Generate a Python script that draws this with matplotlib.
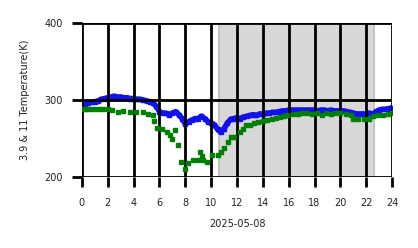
import matplotlib
matplotlib.use('Agg')
import matplotlib.pyplot as plt

# hours of day and brightness temperatures (K)
blue_hours = [0.0, 0.25, 0.5, 0.75, 1.0, 1.25, 1.5, 1.75, 2.0, 2.25, 2.5, 2.75,
              3.0, 3.25, 3.5, 3.75, 4.0, 4.25, 4.5, 4.75, 5.0, 5.25, 5.5, 5.75,
              6.0, 6.25, 6.5, 6.75, 7.0, 7.25, 7.5, 7.75, 8.0, 8.25, 8.5, 8.75,
              9.0, 9.25, 9.5, 9.75, 10.0, 10.25, 10.5, 10.75, 11.0, 11.25, 11.5, 11.75,
              12.0, 12.25, 12.5, 12.75, 13.0, 13.25, 13.5, 13.75, 14.0, 14.25, 14.5, 14.75,
              15.0, 15.25, 15.5, 15.75, 16.0, 16.25, 16.5, 16.75, 17.0, 17.25, 17.5, 17.75,
              18.0, 18.25, 18.5, 18.75, 19.0, 19.25, 19.5, 19.75, 20.0, 20.25, 20.5, 20.75,
              21.0, 21.25, 21.5, 21.75, 22.0, 22.25, 22.5, 22.75, 23.0, 23.25, 23.5, 23.75, 24.0]
blue_temp = [293, 294, 296, 297, 298, 299, 301, 302, 303, 304, 305, 304,
             304, 303, 303, 302, 302, 301, 301, 300, 299, 298, 296, 292,
             285, 283, 283, 281, 283, 285, 281, 276, 269, 272, 274, 276,
             276, 279, 276, 272, 270, 268, 262, 258, 263, 270, 275, 276,
             277, 276, 278, 279, 280, 281, 280, 282, 282, 283, 283, 284,
             284, 285, 286, 286, 287, 287, 287, 287, 287, 287, 287, 287,
             287, 286, 287, 287, 286, 287, 286, 286, 286, 286, 285, 284,
             283, 282, 282, 282, 282, 283, 281, 285, 287, 288, 288, 289, 290]

green_hours = [0.0, 0.2, 0.4, 0.7, 1.0, 1.3, 1.6, 2.0, 2.3, 2.8, 3.2, 3.7, 4.2, 4.7,
               5.1, 5.5, 5.6, 5.8, 6.2, 6.6, 6.8, 7.0, 7.2, 7.4, 7.7, 8.0, 8.2, 8.6,
               9.0, 9.1, 9.3, 9.4, 9.7, 10.1, 10.5, 10.8, 11.0, 11.3, 11.5, 11.8, 12.2,
               12.5, 12.7, 13.0, 13.3, 13.6, 14.0, 14.3, 14.7, 15.0, 15.3, 15.6, 15.9,
               16.3, 16.7, 17.0, 17.4, 17.8, 18.2, 18.6, 18.9, 19.3, 19.6, 20.0, 20.4,
               20.8, 21.0, 21.4, 21.8, 22.2, 22.5, 22.9, 23.3, 23.7, 24.0]
green_temp = [289, 289, 289, 289, 289, 289, 289, 289, 287, 285, 286, 285, 285, 284,
              282, 280, 273, 264, 262, 258, 255, 249, 261, 242, 220, 211, 218, 222,
              222, 232, 228, 222, 220, 229, 229, 232, 238, 245, 252, 252, 259,
              262, 267, 268, 270, 272, 273, 274, 276, 277, 278, 279, 281,
              282, 282, 283, 283, 282, 283, 281, 283, 282, 283, 283, 282,
              281, 276, 275, 275, 276, 279, 280, 281, 282, 283]

night_start, night_end = 10.6, 22.6
xticks = list(range(0, 25, 2))
yticks = [200, 300, 400]

fig = plt.figure(figsize=(4.18, 2.48), dpi=100)
ax = fig.add_axes([0.196, 0.286, 0.742, 0.621])

ax.axvspan(night_start, night_end, facecolor='#d8d8d8', edgecolor='#c4c4c4', linewidth=1.5, zorder=0)
ax.plot(blue_hours, blue_temp, color='#1010f0', linewidth=4, marker='s', markersize=3, zorder=2)
ax.plot(green_hours, green_temp, color='green', linestyle='none', marker='s', markersize=3, zorder=3)

ax.set_xlim(0, 24)
ax.set_ylim(200, 400)
ax.set_xticks(xticks)
ax.set_yticks(yticks)
ax.grid(True, color='black', linewidth=2)
ax.set_axisbelow(False)
for s in ax.spines.values():
    s.set_visible(False)
ax.tick_params(axis='both', length=7, width=2, color='black', labelsize=7, colors='#222222')
ax.tick_params(axis='x', pad=8)
ax.tick_params(axis='y', pad=7)
ax.set_xlabel('2025-05-08', fontsize=7, color='#222222', labelpad=8)
ax.set_ylabel('3.9 & 11 Temperature(K)', fontsize=7, color='#222222', labelpad=10)

fig.savefig('out.png', dpi=100)
